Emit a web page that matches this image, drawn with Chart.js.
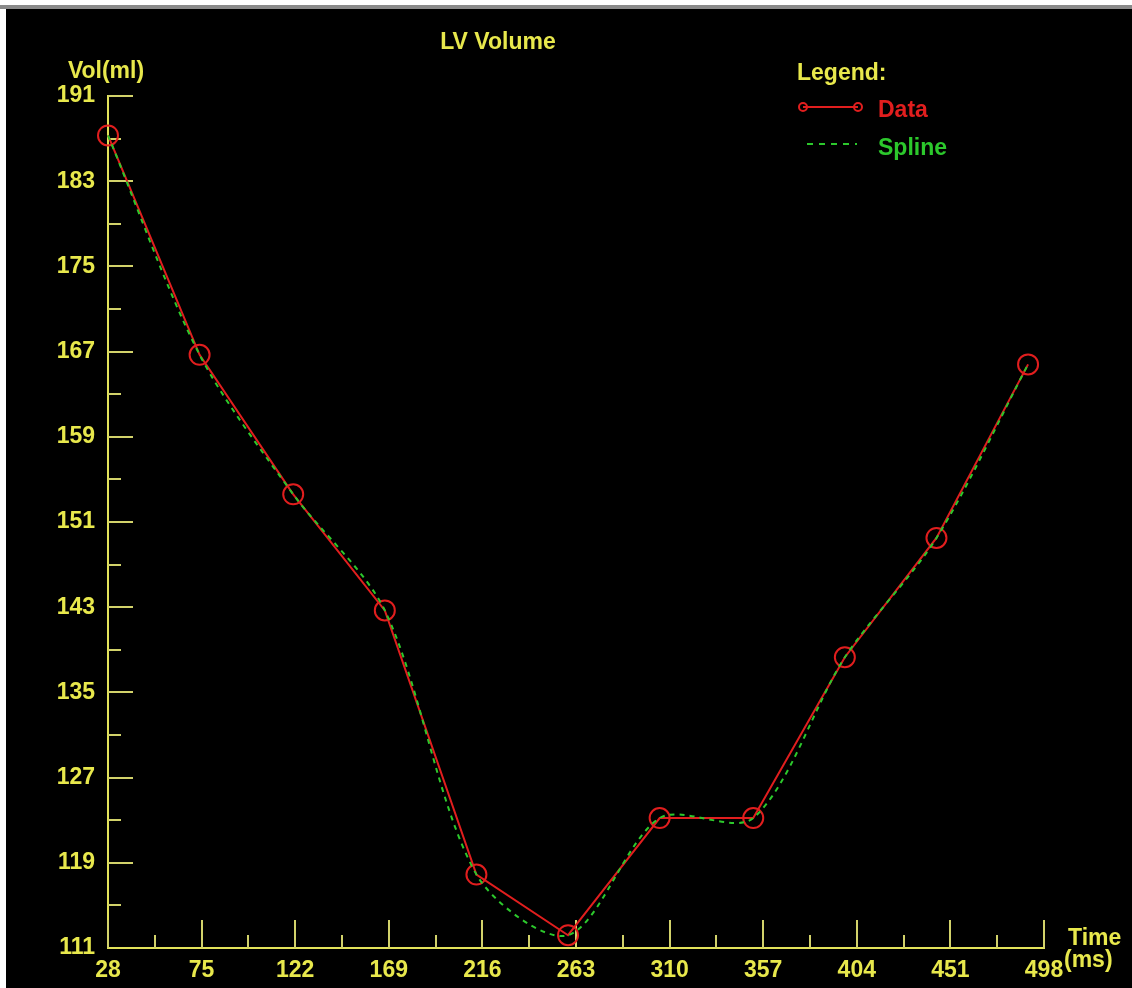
<!DOCTYPE html>
<html>
<head>
<meta charset="utf-8">
<script src="https://cdn.jsdelivr.net/npm/chart.js@4/dist/chart.umd.min.js"></script>
<style>
  body { margin: 0; background: #ffffff; }
  #topbar { position: absolute; left: 0; top: 5px; width: 1132px; height: 4px; background: #8a8a8a; }
  #wrap { position: absolute; left: 6px; top: 9px; width: 1126px; height: 979px; background: #000000; }
</style>
</head>
<body>
<div id="topbar"></div>
<div id="wrap"><canvas id="lvChart" width="1126" height="979"></canvas></div>
<script>
// values
const timeMs = [28, 74, 121, 167, 213, 259, 305, 352, 398, 444, 490];
const volumeMl = [187.3, 166.7, 153.6, 142.7, 117.9, 112.2, 123.2, 123.2, 138.3, 149.5, 165.8];
const xTickValues = [28, 75, 122, 169, 216, 263, 310, 357, 404, 451, 498];
const yTickValues = [111, 119, 127, 135, 143, 151, 159, 167, 175, 183, 191];

const YELLOW = '#e8e84c';
const AXIS = '#e2e25a';
const TICK = '#d2d26a';
const RED = '#e11e1e';
const GREEN = '#2cc82c';
const FAMILY = '"Liberation Sans", Arial, sans-serif';
const FONT = 'bold 23px ' + FAMILY;

const points = timeMs.map((t, i) => ({x: t, y: volumeMl[i]}));

// inward tick marks, major and minor, placed through the scales
const tickMarks = {
  id: 'tickMarks',
  beforeDatasetsDraw(chart) {
    const ctx = chart.ctx;
    const xs = chart.scales.x, ys = chart.scales.y;
    const y0 = ys.getPixelForValue(yTickValues[0]);
    const x0 = xs.getPixelForValue(xTickValues[0]);
    ctx.save();
    ctx.strokeStyle = TICK;
    ctx.lineWidth = 2;
    xTickValues.forEach((v, i) => {
      const px = Math.round(xs.getPixelForValue(v));
      ctx.beginPath(); ctx.moveTo(px, y0); ctx.lineTo(px, y0 - 28); ctx.stroke();
      if (i < xTickValues.length - 1) {
        const mx = Math.round(xs.getPixelForValue((v + xTickValues[i + 1]) / 2));
        ctx.beginPath(); ctx.moveTo(mx, y0); ctx.lineTo(mx, y0 - 13); ctx.stroke();
      }
    });
    yTickValues.forEach((v, i) => {
      const py = Math.round(ys.getPixelForValue(v));
      if (i > 0) { ctx.beginPath(); ctx.moveTo(x0, py); ctx.lineTo(x0 + 25, py); ctx.stroke(); }
      if (i < yTickValues.length - 1) {
        const my = Math.round(ys.getPixelForValue((v + yTickValues[i + 1]) / 2));
        ctx.beginPath(); ctx.moveTo(x0, my); ctx.lineTo(x0 + 13, my); ctx.stroke();
      }
    });
    ctx.restore();
  }
};

// title, axis names and the legend box
const labels = {
  id: 'labels',
  afterDraw(chart) {
    const ctx = chart.ctx;
    ctx.save();
    ctx.font = FONT;
    ctx.textBaseline = 'alphabetic';
    ctx.fillStyle = YELLOW;
    ctx.textAlign = 'center';
    ctx.fillText('LV Volume', 492, 40);
    ctx.fillText('Vol(ml)', 100, 69);
    ctx.textAlign = 'left';
    ctx.fillText('Time', 1062, 936);
    ctx.fillText('(ms)', 1058, 958);
    ctx.fillText('Legend:', 791, 71);

    ctx.strokeStyle = RED;
    ctx.lineWidth = 2;
    ctx.beginPath(); ctx.moveTo(797, 98); ctx.lineTo(852, 98); ctx.stroke();
    [797, 852].forEach(cx => {
      ctx.beginPath(); ctx.arc(cx, 98, 4, 0, Math.PI * 2); ctx.stroke();
    });
    ctx.fillStyle = RED;
    ctx.fillText('Data', 872, 108);

    ctx.strokeStyle = GREEN;
    ctx.setLineDash([6, 6]);
    ctx.beginPath(); ctx.moveTo(801, 135); ctx.lineTo(851, 135); ctx.stroke();
    ctx.setLineDash([]);
    ctx.fillStyle = GREEN;
    ctx.fillText('Spline', 872, 146);
    ctx.restore();
  }
};

new Chart('lvChart', {
  type: 'line',
  data: {
    datasets: [{
      label: 'Spline',
      data: points,
      borderColor: GREEN,
      borderWidth: 2,
      borderDash: [5, 5],
      tension: 0.3,
      pointRadius: 0,
      clip: false,
      order: 0
    }, {
      label: 'Data',
      data: points,
      borderColor: RED,
      borderWidth: 2,
      tension: 0,
      pointRadius: 10,
      pointBorderWidth: 2,
      pointBorderColor: RED,
      pointBackgroundColor: 'rgba(0,0,0,0)',
      clip: false,
      order: 1
    }]
  },
  options: {
    responsive: false,
    animation: false,
    layout: { padding: { top: 87, right: 88, left: 0, bottom: 0 } },
    plugins: {
      legend: { display: false },
      title: { display: false },
      tooltip: { enabled: false }
    },
    scales: {
      x: {
        type: 'linear',
        min: 28,
        max: 498,
        afterBuildTicks: s => { s.ticks = xTickValues.map(v => ({value: v})); },
        afterFit: s => { s.height = 40; },
        grid: { display: false, drawTicks: false },
        border: { display: true, color: AXIS, width: 2 },
        ticks: { color: YELLOW, font: { family: FAMILY, size: 23, weight: 'bold' }, padding: 9, maxRotation: 0, autoSkip: false }
      },
      y: {
        type: 'linear',
        min: 111,
        max: 191,
        afterBuildTicks: s => { s.ticks = yTickValues.map(v => ({value: v})); },
        afterFit: s => { s.width = 102; },
        grid: { display: false, drawTicks: false },
        border: { display: true, color: AXIS, width: 2 },
        ticks: { color: YELLOW, font: { family: FAMILY, size: 23, weight: 'bold' }, padding: 13, autoSkip: false }
      }
    }
  },
  plugins: [tickMarks, labels]
});
</script>
</body>
</html>
